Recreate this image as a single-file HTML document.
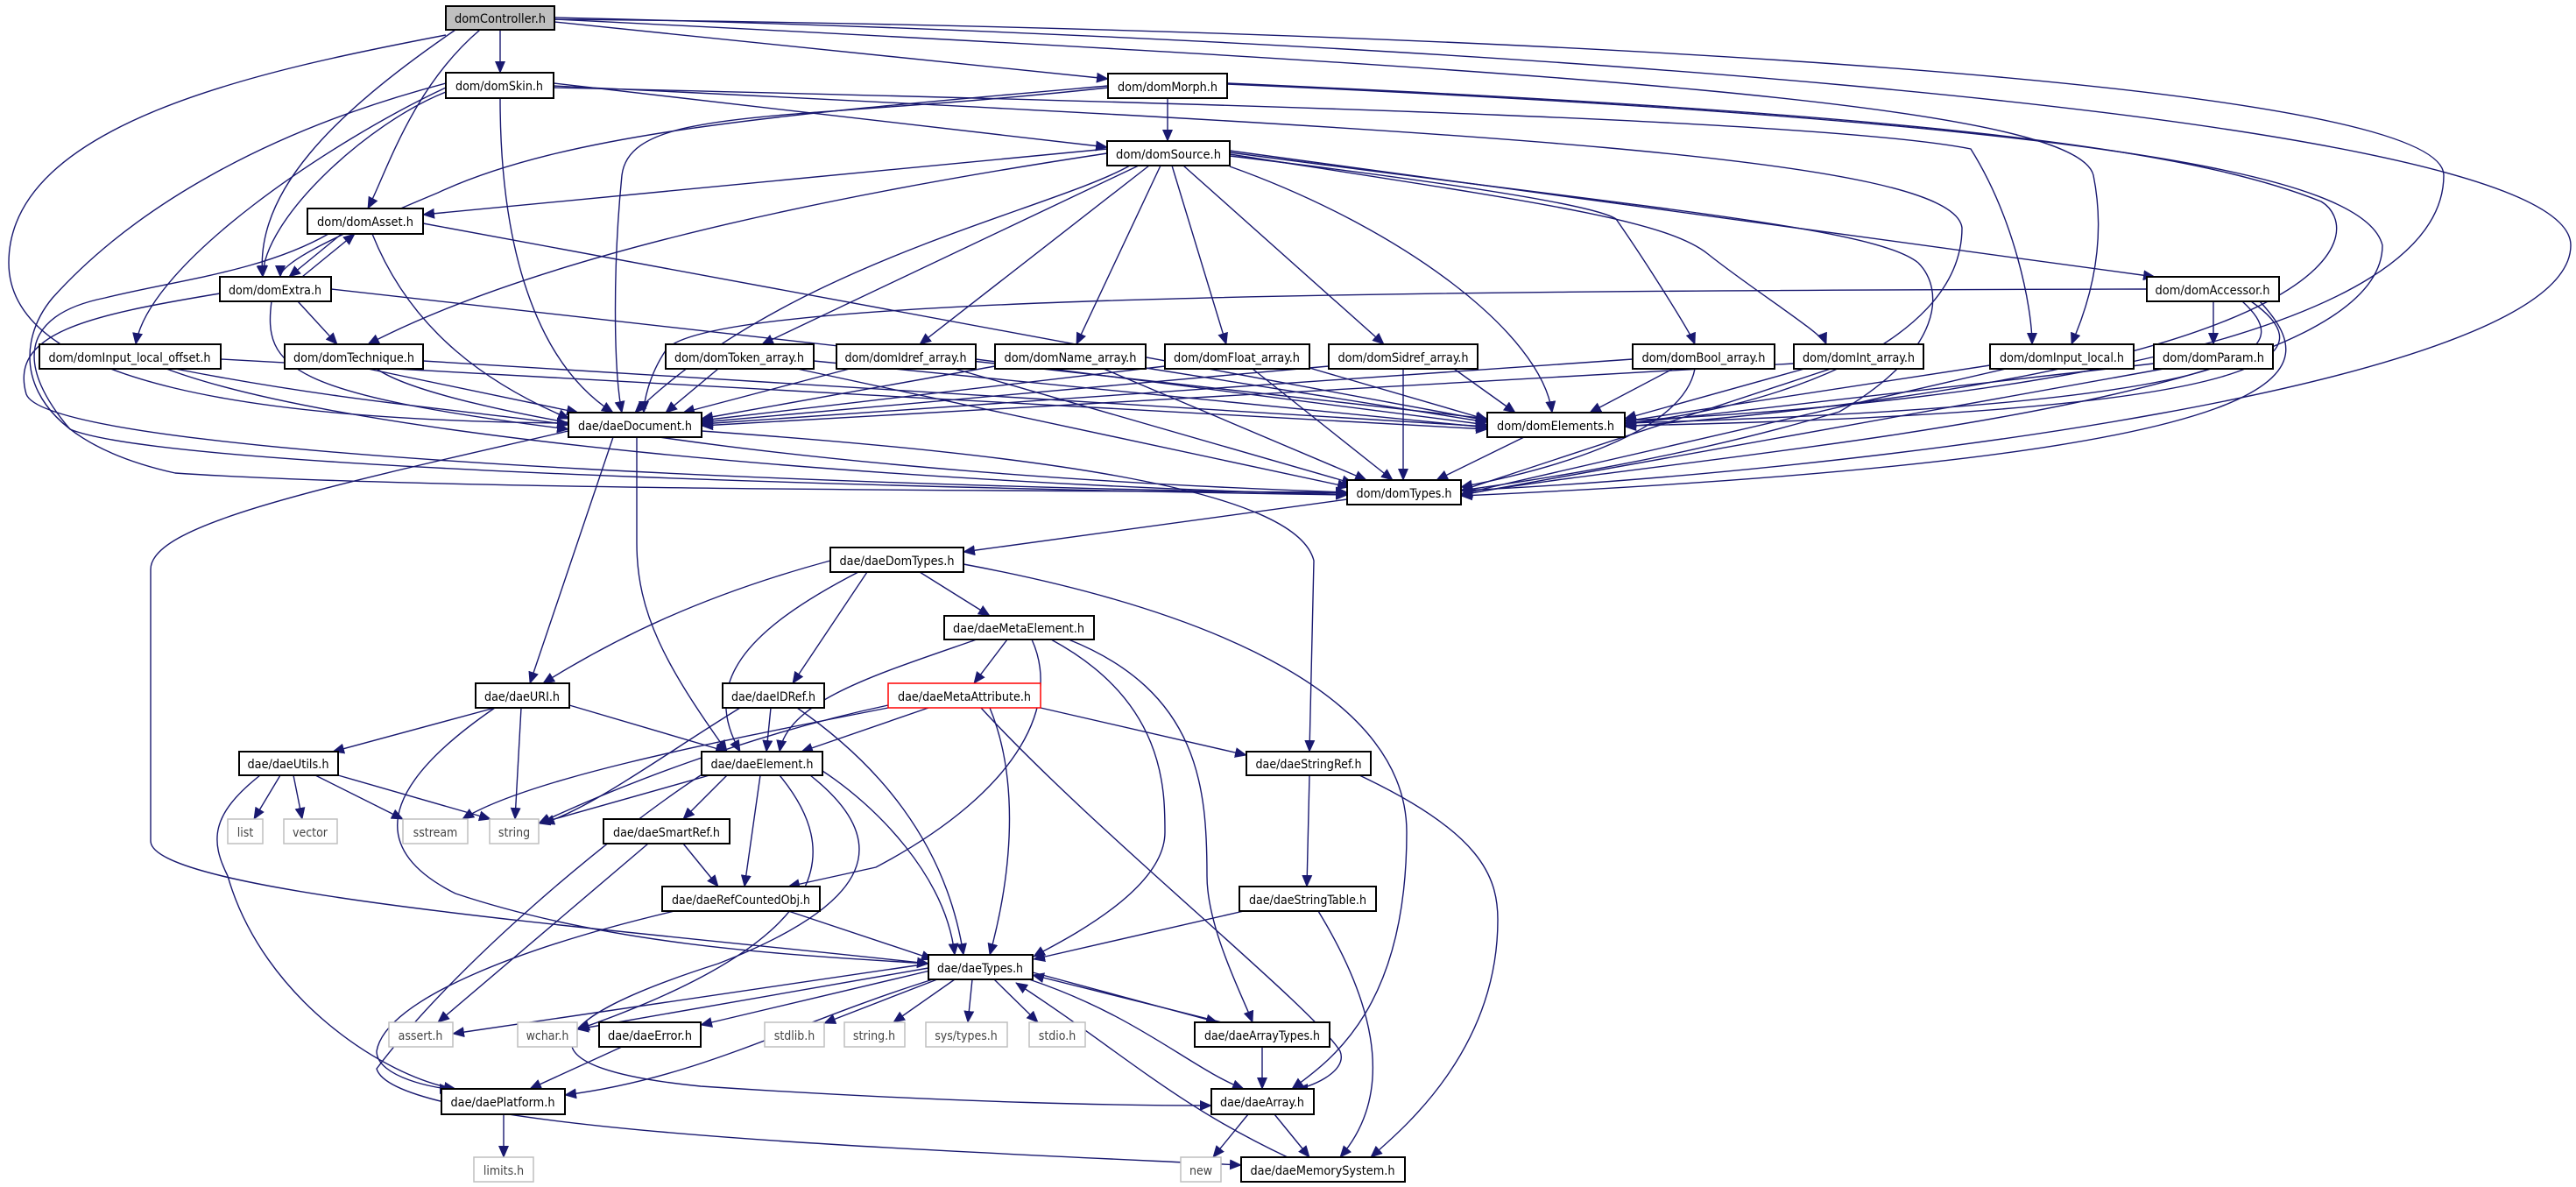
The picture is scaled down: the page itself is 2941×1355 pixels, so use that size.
<!DOCTYPE html>
<html><head><meta charset="utf-8"><style>
html,body{margin:0;padding:0;background:#fff;}
svg{display:block;}
text{font-family:"DejaVu Sans Condensed","DejaVu Sans","Liberation Sans",sans-serif;font-size:14px;fill:#000;text-anchor:middle;}
.n{fill:#fff;stroke:#000;stroke-width:2;}
.g{fill:#fff;stroke:#bfbfbf;stroke-width:1.5;}
.gt{fill:#444;}
.e{fill:none;stroke:#191970;stroke-width:1.4;marker-end:url(#a);}
</style></head><body>
<svg width="2941" height="1355" viewBox="0 0 2941 1355" xmlns="http://www.w3.org/2000/svg">
<defs><marker id="a" markerUnits="userSpaceOnUse" markerWidth="14" markerHeight="12" refX="13" refY="6" orient="auto"><path d="M0,0 L14,6 L0,12 z" fill="#191970"/></marker></defs>
<g>
<path class="e" d="M571,34 L571,83"/>
<path class="e" d="M633,25 L1265,90"/>
<path class="e" d="M548,34 C470,100 440,200 420,238"/>
<path class="e" d="M520,34 C380,130 290,220 300,316"/>
<path class="e" d="M509,40 C300,80 10,140 10,300 C10,440 300,480 649,483"/>
<path class="e" d="M633,20 C1500,40 2935,120 2935,280 C2935,440 2100,540 1668,560"/>
<path class="e" d="M633,22 C1500,30 2790,80 2790,200 C2790,380 2300,460 1855,480"/>
<path class="e" d="M633,22 C1800,80 2370,120 2390,200 C2410,300 2370,380 2365,393"/>
<path class="e" d="M571,112 C571,300 620,420 700,471"/>
<path class="e" d="M632,95 L1264,168"/>
<path class="e" d="M509,105 C420,140 300,250 300,316"/>
<path class="e" d="M509,100 C380,160 170,300 155,393"/>
<path class="e" d="M509,95 C300,150 150,240 60,340 C10,400 20,500 200,540 C500,560 1200,560 1538,562"/>
<path class="e" d="M632,100 C1500,120 2100,140 2250,170 C2300,250 2320,350 2320,393"/>
<path class="e" d="M632,98 C1700,150 2230,180 2240,260 C2240,400 2000,470 1855,483"/>
<path class="e" d="M1333,112 L1333,161"/>
<path class="e" d="M1265,100 C900,140 720,120 710,200 C700,300 700,420 710,471"/>
<path class="e" d="M1265,98 C900,130 650,150 500,220 C380,270 320,300 320,316"/>
<path class="e" d="M1401,95 C2200,130 2500,170 2650,230 C2700,260 2700,420 1855,487"/>
<path class="e" d="M1401,96 C2400,140 2700,200 2720,280 C2720,470 1900,520 1668,565"/>
<path class="e" d="M1264,170 L483,245"/>
<path class="e" d="M1264,175 C900,230 600,300 420,393"/>
<path class="e" d="M1290,189 C1200,240 900,300 725,471"/>
<path class="e" d="M1300,189 L870,393"/>
<path class="e" d="M1312,189 L1050,393"/>
<path class="e" d="M1325,189 L1229,393"/>
<path class="e" d="M1338,189 L1400,393"/>
<path class="e" d="M1351,189 L1580,393"/>
<path class="e" d="M1404,190 C1600,260 1760,380 1772,471"/>
<path class="e" d="M1404,178 C1750,220 1830,240 1845,250 C1880,300 1930,380 1935,393"/>
<path class="e" d="M1404,176 C1750,230 1900,250 1950,290 C2000,330 2080,380 2085,393"/>
<path class="e" d="M1404,172 L2460,316"/>
<path class="e" d="M1404,174 C1900,240 2140,260 2190,300 C2220,330 2220,400 2100,470 C1900,530 1700,555 1668,560"/>
<path class="e" d="M390,267 L330,316"/>
<path class="e" d="M345,316 L405,267"/>
<path class="e" d="M425,267 C470,380 560,440 650,478"/>
<path class="e" d="M483,255 L1698,480"/>
<path class="e" d="M375,267 C300,310 200,320 120,340 C20,360 20,420 80,490 C200,540 1200,560 1538,565"/>
<path class="e" d="M340,344 L385,393"/>
<path class="e" d="M310,344 C300,420 330,450 649,490"/>
<path class="e" d="M378,330 L1698,478"/>
<path class="e" d="M251,335 C100,360 10,380 30,450 C60,530 1200,560 1538,563"/>
<path class="e" d="M2527,344 L2527,393"/>
<path class="e" d="M2451,330 C1500,332 800,340 760,400 C740,430 735,460 735,471"/>
<path class="e" d="M2560,344 C2610,390 2640,460 1855,483"/>
<path class="e" d="M2570,344 C2650,400 2640,470 1855,486"/>
<path class="e" d="M2580,344 C2650,420 2680,520 1668,566"/>
<path class="e" d="M200,421 C400,460 550,470 649,485"/>
<path class="e" d="M252,410 L1698,490"/>
<path class="e" d="M190,421 C400,500 1000,550 1538,565"/>
<path class="e" d="M420,421 L660,471"/>
<path class="e" d="M483,412 L1698,487"/>
<path class="e" d="M430,421 C500,470 900,540 1538,562"/>
<path class="e" d="M820,421 L760,471"/>
<path class="e" d="M929,412 L1698,488"/>
<path class="e" d="M910,421 L1540,556"/>
<path class="e" d="M970,421 L780,471"/>
<path class="e" d="M1114,410 L1698,485"/>
<path class="e" d="M1090,421 L1545,552"/>
<path class="e" d="M1136,418 L801,478"/>
<path class="e" d="M1308,420 L1698,482"/>
<path class="e" d="M1260,421 L1560,548"/>
<path class="e" d="M1330,418 L801,480"/>
<path class="e" d="M1430,421 L1590,548"/>
<path class="e" d="M1495,420 L1698,479"/>
<path class="e" d="M1517,418 L801,482"/>
<path class="e" d="M1660,421 L1730,471"/>
<path class="e" d="M1602,421 L1602,548"/>
<path class="e" d="M1864,410 L801,484"/>
<path class="e" d="M1910,421 L1815,471"/>
<path class="e" d="M1935,421 C1920,500 1750,540 1668,556"/>
<path class="e" d="M2060,421 L1855,478"/>
<path class="e" d="M2090,421 L1668,560"/>
<path class="e" d="M2048,415 L801,486"/>
<path class="e" d="M2290,421 L1668,564"/>
<path class="e" d="M2285,415 L1855,481"/>
<path class="e" d="M2459,415 L1855,484"/>
<path class="e" d="M2470,421 L1668,565"/>
<path class="e" d="M649,492 C350,560 172,600 172,650 L172,960 C172,1020 700,1060 1060,1100"/>
<path class="e" d="M700,499 L605,780"/>
<path class="e" d="M727,499 L727,620 C727,700 760,760 830,858"/>
<path class="e" d="M801,492 C1200,520 1480,560 1500,640 L1495,858"/>
<path class="e" d="M1740,499 L1640,548"/>
<path class="e" d="M1538,570 L1100,630"/>
<path class="e" d="M948,640 C800,680 700,730 620,780"/>
<path class="e" d="M990,653 L905,780"/>
<path class="e" d="M980,653 C850,720 800,780 845,858"/>
<path class="e" d="M1050,653 L1130,703"/>
<path class="e" d="M1100,644 C1400,700 1606,800 1606,950 C1606,1150 1520,1210 1475,1243"/>
<path class="e" d="M1150,730 L1112,780"/>
<path class="e" d="M1115,730 C1000,770 900,800 890,858"/>
<path class="e" d="M1178,730 C1210,800 1170,900 1000,990 L900,1012"/>
<path class="e" d="M1200,730 C1330,800 1330,900 1330,950 C1330,1020 1200,1080 1180,1092"/>
<path class="e" d="M1220,730 C1370,790 1378,900 1378,1000 C1378,1060 1420,1140 1430,1167"/>
<path class="e" d="M565,808 L380,858"/>
<path class="e" d="M595,808 L588,935"/>
<path class="e" d="M650,805 L830,858"/>
<path class="e" d="M565,808 C460,880 400,960 520,1020 C700,1080 900,1090 1060,1100"/>
<path class="e" d="M845,808 C760,860 680,920 620,940"/>
<path class="e" d="M880,808 L875,858"/>
<path class="e" d="M910,808 C1000,870 1080,960 1100,1090"/>
<path class="e" d="M1014,808 C800,850 600,890 528,935"/>
<path class="e" d="M1014,805 C850,840 700,900 615,940"/>
<path class="e" d="M1060,808 L915,858"/>
<path class="e" d="M1188,808 L1423,862"/>
<path class="e" d="M1130,808 C1160,880 1160,980 1130,1090"/>
<path class="e" d="M1120,808 C1250,950 1500,1150 1530,1200 C1540,1225 1490,1243 1480,1243"/>
<path class="e" d="M1495,885 L1492,1012"/>
<path class="e" d="M1552,885 C1690,950 1710,1000 1710,1050 C1710,1200 1600,1290 1565,1321"/>
<path class="e" d="M1420,1040 L1180,1095"/>
<path class="e" d="M1505,1040 C1560,1130 1600,1240 1530,1321"/>
<path class="e" d="M320,885 L290,935"/>
<path class="e" d="M335,885 L345,935"/>
<path class="e" d="M360,885 L460,935"/>
<path class="e" d="M386,885 L560,935"/>
<path class="e" d="M297,885 C240,930 240,960 260,1000 C300,1140 440,1230 520,1243"/>
<path class="e" d="M810,885 L615,940"/>
<path class="e" d="M830,885 L780,935"/>
<path class="e" d="M868,885 L850,1012"/>
<path class="e" d="M890,885 C960,970 960,1070 660,1175"/>
<path class="e" d="M925,885 C1020,960 1000,1030 820,1100 C600,1170 600,1220 800,1240 C1100,1260 1300,1262 1383,1262"/>
<path class="e" d="M939,880 C1000,920 1080,1000 1090,1090"/>
<path class="e" d="M800,885 C700,950 520,1100 430,1220 C450,1290 1000,1310 1417,1330"/>
<path class="e" d="M780,963 L820,1012"/>
<path class="e" d="M740,963 L500,1167"/>
<path class="e" d="M770,1040 C600,1080 440,1140 430,1200 C430,1230 500,1243 515,1243"/>
<path class="e" d="M900,1040 L1065,1095"/>
<path class="e" d="M1060,1100 L517,1180"/>
<path class="e" d="M1060,1105 L659,1175"/>
<path class="e" d="M1062,1108 L800,1170"/>
<path class="e" d="M1070,1118 L941,1168"/>
<path class="e" d="M1090,1118 L1020,1167"/>
<path class="e" d="M1110,1118 L1105,1167"/>
<path class="e" d="M1135,1118 L1185,1167"/>
<path class="e" d="M1179,1110 L1390,1167"/>
<path class="e" d="M1395,1167 L1179,1113"/>
<path class="e" d="M1175,1118 C1300,1160 1360,1220 1420,1243"/>
<path class="e" d="M1065,1118 C900,1170 800,1230 645,1250"/>
<path class="e" d="M1441,1195 L1441,1243"/>
<path class="e" d="M710,1195 L605,1243"/>
<path class="e" d="M575,1272 L575,1321"/>
<path class="e" d="M1425,1272 L1385,1321"/>
<path class="e" d="M1455,1272 L1495,1321"/>
<path class="e" d="M1470,1321 C1340,1260 1280,1200 1160,1122"/>
</g>
<g>
<rect x="509" y="7" width="124" height="27" fill="#bfbfbf" stroke="#000" stroke-width="2"/><text x="571" y="26" textLength="104" lengthAdjust="spacingAndGlyphs">domController.h</text>
<rect class="n" x="509" y="83" width="123" height="29"/><text x="570" y="103" textLength="100" lengthAdjust="spacingAndGlyphs">dom/domSkin.h</text>
<rect class="n" x="1265" y="84" width="136" height="28"/><text x="1333" y="104" textLength="114" lengthAdjust="spacingAndGlyphs">dom/domMorph.h</text>
<rect class="n" x="1264" y="161" width="140" height="28"/><text x="1334" y="181" textLength="120" lengthAdjust="spacingAndGlyphs">dom/domSource.h</text>
<rect class="n" x="351" y="238" width="132" height="29"/><text x="417" y="258" textLength="110" lengthAdjust="spacingAndGlyphs">dom/domAsset.h</text>
<rect class="n" x="251" y="316" width="127" height="28"/><text x="314" y="336" textLength="106" lengthAdjust="spacingAndGlyphs">dom/domExtra.h</text>
<rect class="n" x="2451" y="316" width="151" height="28"/><text x="2526" y="336" textLength="131" lengthAdjust="spacingAndGlyphs">dom/domAccessor.h</text>
<rect class="n" x="45" y="393" width="207" height="28"/><text x="148" y="413" textLength="185" lengthAdjust="spacingAndGlyphs">dom/domInput_local_offset.h</text>
<rect class="n" x="325" y="393" width="158" height="28"/><text x="404" y="413" textLength="138" lengthAdjust="spacingAndGlyphs">dom/domTechnique.h</text>
<rect class="n" x="760" y="393" width="169" height="28"/><text x="844" y="413" textLength="148" lengthAdjust="spacingAndGlyphs">dom/domToken_array.h</text>
<rect class="n" x="955" y="393" width="159" height="28"/><text x="1034" y="413" textLength="139" lengthAdjust="spacingAndGlyphs">dom/domIdref_array.h</text>
<rect class="n" x="1136" y="393" width="172" height="28"/><text x="1222" y="413" textLength="151" lengthAdjust="spacingAndGlyphs">dom/domName_array.h</text>
<rect class="n" x="1330" y="393" width="165" height="28"/><text x="1412" y="413" textLength="144" lengthAdjust="spacingAndGlyphs">dom/domFloat_array.h</text>
<rect class="n" x="1517" y="393" width="170" height="28"/><text x="1602" y="413" textLength="149" lengthAdjust="spacingAndGlyphs">dom/domSidref_array.h</text>
<rect class="n" x="1864" y="393" width="162" height="28"/><text x="1945" y="413" textLength="141" lengthAdjust="spacingAndGlyphs">dom/domBool_array.h</text>
<rect class="n" x="2048" y="393" width="148" height="28"/><text x="2122" y="413" textLength="128" lengthAdjust="spacingAndGlyphs">dom/domInt_array.h</text>
<rect class="n" x="2272" y="393" width="164" height="28"/><text x="2354" y="413" textLength="142" lengthAdjust="spacingAndGlyphs">dom/domInput_local.h</text>
<rect class="n" x="2459" y="393" width="136" height="28"/><text x="2527" y="413" textLength="116" lengthAdjust="spacingAndGlyphs">dom/domParam.h</text>
<rect class="n" x="649" y="471" width="152" height="28"/><text x="725" y="491" textLength="130" lengthAdjust="spacingAndGlyphs">dae/daeDocument.h</text>
<rect class="n" x="1698" y="471" width="157" height="28"/><text x="1776" y="491" textLength="134" lengthAdjust="spacingAndGlyphs">dom/domElements.h</text>
<rect class="n" x="1538" y="548" width="130" height="28"/><text x="1603" y="568" textLength="109" lengthAdjust="spacingAndGlyphs">dom/domTypes.h</text>
<rect class="n" x="948" y="625" width="152" height="28"/><text x="1024" y="645" textLength="131" lengthAdjust="spacingAndGlyphs">dae/daeDomTypes.h</text>
<rect class="n" x="1078" y="703" width="171" height="27"/><text x="1163" y="722" textLength="150" lengthAdjust="spacingAndGlyphs">dae/daeMetaElement.h</text>
<rect class="n" x="543" y="780" width="107" height="28"/><text x="596" y="800" textLength="86" lengthAdjust="spacingAndGlyphs">dae/daeURI.h</text>
<rect class="n" x="825" y="780" width="116" height="28"/><text x="883" y="800" textLength="96" lengthAdjust="spacingAndGlyphs">dae/daeIDRef.h</text>
<rect x="1014" y="780" width="174" height="28" fill="#fff" stroke="#ff0000" stroke-width="1.5"/><text x="1101" y="800" textLength="152" lengthAdjust="spacingAndGlyphs">dae/daeMetaAttribute.h</text>
<rect class="n" x="1423" y="858" width="142" height="27"/><text x="1494" y="877" textLength="121" lengthAdjust="spacingAndGlyphs">dae/daeStringRef.h</text>
<rect class="n" x="273" y="858" width="113" height="27"/><text x="329" y="877" textLength="93" lengthAdjust="spacingAndGlyphs">dae/daeUtils.h</text>
<rect class="n" x="801" y="858" width="138" height="27"/><text x="870" y="877" textLength="117" lengthAdjust="spacingAndGlyphs">dae/daeElement.h</text>
<rect class="g" x="260" y="935" width="40" height="28"/><text class="gt" x="280" y="955">list</text>
<rect class="g" x="324" y="935" width="61" height="28"/><text class="gt" x="354" y="955">vector</text>
<rect class="g" x="460" y="935" width="74" height="28"/><text class="gt" x="497" y="955">sstream</text>
<rect class="g" x="559" y="935" width="56" height="28"/><text class="gt" x="587" y="955">string</text>
<rect class="n" x="689" y="935" width="144" height="28"/><text x="761" y="955" textLength="122" lengthAdjust="spacingAndGlyphs">dae/daeSmartRef.h</text>
<rect class="n" x="756" y="1012" width="180" height="28"/><text x="846" y="1032" textLength="158" lengthAdjust="spacingAndGlyphs">dae/daeRefCountedObj.h</text>
<rect class="n" x="1415" y="1012" width="156" height="28"/><text x="1493" y="1032" textLength="134" lengthAdjust="spacingAndGlyphs">dae/daeStringTable.h</text>
<rect class="n" x="1060" y="1090" width="119" height="28"/><text x="1119" y="1110" textLength="98" lengthAdjust="spacingAndGlyphs">dae/daeTypes.h</text>
<rect class="g" x="444" y="1167" width="73" height="28"/><text class="gt" x="480" y="1187">assert.h</text>
<rect class="g" x="591" y="1167" width="68" height="28"/><text class="gt" x="625" y="1187">wchar.h</text>
<rect class="n" x="684" y="1167" width="116" height="28"/><text x="742" y="1187" textLength="96" lengthAdjust="spacingAndGlyphs">dae/daeError.h</text>
<rect class="g" x="873" y="1167" width="68" height="28"/><text class="gt" x="907" y="1187">stdlib.h</text>
<rect class="g" x="964" y="1167" width="69" height="28"/><text class="gt" x="998" y="1187">string.h</text>
<rect class="g" x="1057" y="1167" width="93" height="28"/><text class="gt" x="1103" y="1187">sys/types.h</text>
<rect class="g" x="1175" y="1167" width="64" height="28"/><text class="gt" x="1207" y="1187">stdio.h</text>
<rect class="n" x="1364" y="1167" width="154" height="28"/><text x="1441" y="1187" textLength="132" lengthAdjust="spacingAndGlyphs">dae/daeArrayTypes.h</text>
<rect class="n" x="504" y="1243" width="141" height="29"/><text x="574" y="1263" textLength="119" lengthAdjust="spacingAndGlyphs">dae/daePlatform.h</text>
<rect class="n" x="1383" y="1243" width="117" height="29"/><text x="1441" y="1263" textLength="96" lengthAdjust="spacingAndGlyphs">dae/daeArray.h</text>
<rect class="g" x="541" y="1321" width="68" height="28"/><text class="gt" x="575" y="1341">limits.h</text>
<rect class="g" x="1348" y="1321" width="46" height="28"/><text class="gt" x="1371" y="1341">new</text>
<rect class="n" x="1417" y="1321" width="187" height="28"/><text x="1510" y="1341" textLength="165" lengthAdjust="spacingAndGlyphs">dae/daeMemorySystem.h</text>
</g>
</svg>
</body></html>
